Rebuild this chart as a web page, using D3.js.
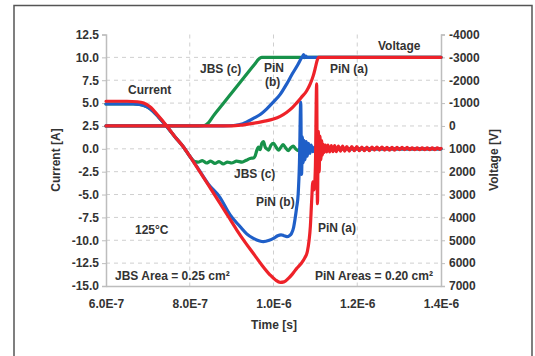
<!DOCTYPE html>
<html>
<head>
<meta charset="utf-8">
<script src="https://cdn.jsdelivr.net/npm/d3@7"></script>
<style>
  html, body { margin: 0; padding: 0; background: #fff; }
  svg { display: block; }
  text { font-family: "Liberation Sans", Arial, sans-serif; font-weight: bold; fill: #333; }
</style>
</head>
<body>
<svg id="chart" width="535" height="356"></svg>
<script>
// Time in ns, current in A, voltage in V
const xTicks = [600, 800, 1000, 1200, 1400];
const currentTicks = [12.5, 10, 7.5, 5, 2.5, 0, -2.5, -5, -7.5, -10, -12.5, -15];
const voltageTicks = [-4000, -3000, -2000, -1000, 0, 1000, 2000, 3000, 4000, 5000, 6000, 7000];

// JBS (c) current
const currentJBS = [
  [600,4.9],[665,4.9],[680,4.85],[692,4.7],[705,4.4],[725,3.5],[745,2.45],[765,1.3],[785,0.2],
  [800,-0.8],[812,-1.4],[820,-1.45],[830,-1.3],[840,-1.55],[850,-1.35],[860,-1.6],[870,-1.4],
  [880,-1.65],[890,-1.45],[900,-1.55],[912,-1.35],[925,-1.45],[935,-1.25],[944,-1.05],[952,-1.0],
  [956,-0.8],[960,-0.2],[964,0.2],[968,-0.1],[972,0.6],[976,0.8],[980,0.2],[984,0.0],[988,-0.15],
  [994,0.4],[1000,0.6],[1006,0.2],[1012,-0.15],[1018,0.2],[1023,0.45],[1029,0.1],[1035,-0.2],
  [1041,0.1],[1047,0.3],[1053,0.0],[1059,-0.2],[1065,0.1],[1072,-0.1],[1080,0.05],[1090,0],[1400,0]
];

// PiN (b) current
const currentPiNb = [
  [600,4.9],[665,4.9],[680,4.85],[692,4.7],[705,4.4],[725,3.5],[745,2.45],[765,1.3],[785,0.2],
  [800,-0.8],[817,-1.95],[845,-3.9],[872,-5.3],[896,-7.2],[920,-8.5],[936,-9.3],[952,-9.8],
  [965,-10.05],[976,-10.15],[990,-10.0],[1000,-9.8],[1010,-9.5],[1018,-9.4],[1025,-9.5],[1032,-9.6],
  [1038,-9.5],[1043,-9.25],[1048,-8.6],[1051,-7.8],[1055,-6.5],[1059,-4.9],[1062,-1.5],[1065,5.1],
  [1067,-2.8],[1069,1.3],[1071,-1.5],[1073,0.9],[1075,-1.2],[1078,0.8],[1081,-0.8],[1084,0.6],
  [1087,-0.5],[1090,0.4],[1094,-0.3],[1098,0.2],[1102,-0.2],[1106,0.1],[1110,0],[1400,0]
];

// PiN (a) current
const currentPiNa = [
  [600,5.2],[650,5.2],[675,5.15],[690,5.0],[705,4.6],[725,3.6],[745,2.5],[765,1.3],[785,0.2],
  [800,-0.8],[817,-2.0],[845,-4.0],[872,-5.95],[892,-7.4],[912,-8.85],[932,-10.2],[952,-11.45],
  [972,-12.7],[992,-13.8],[1005,-14.35],[1016,-14.6],[1025,-14.55],[1035,-14.2],[1045,-13.7],
  [1055,-13.1],[1065,-12.6],[1075,-11.9],[1081,-11.2],[1085,-10.0],[1088,-8.5],[1091,-5.8],
  [1094,-3.6],[1097,-4.5],[1100,-2.0],[1103,7.1],[1105,-6.0],[1107,1.9],[1109,-2.5],[1111,1.4],
  [1113,-1.2],[1115,0.9],[1117,-0.7],[1119,0.5],
  [1121,-0.4],[1124,0.4],[1127,-0.35],[1130,0.4],[1134,-0.35],[1138,0.35],[1142,-0.3],[1146,0.35],
  [1150,-0.3],[1155,0.3],[1160,-0.25],[1165,0.3],[1170,-0.25],[1175,0.25],[1181,-0.25],[1187,0.25],
  [1193,-0.2],[1199,0.25],[1205,-0.2],[1211,0.2],[1217,-0.2],[1223,0.2],[1229,-0.2],[1235,0.2],
  [1241,-0.15],[1247,0.2],[1253,-0.15],[1259,0.2],[1265,-0.15],[1271,0.15],[1277,-0.15],[1283,0.15],
  [1289,-0.15],[1295,0.15],[1301,-0.1],[1307,0.15],[1313,-0.1],[1319,0.15],[1325,-0.1],[1331,0.1],
  [1337,-0.1],[1343,0.1],[1349,-0.1],[1355,0.1],[1361,-0.1],[1367,0.1],[1373,-0.1],[1379,0.1],
  [1385,-0.1],[1391,0.1],[1397,-0.05],[1400,0.05]
];

// Voltages
const voltageJBS = [
  [600,0],[820,0],[835,-20],[845,-150],[856,-430],[880,-980],[900,-1440],[920,-1900],
  [940,-2360],[955,-2700],[965,-2930],[972,-3000],[1400,-3000]
];
const voltagePiNb = [
  [600,0],[880,0],[905,-20],[927,-100],[952,-330],[970,-520],[984,-750],[1000,-1050],
  [1016,-1380],[1031,-1820],[1045,-2280],[1058,-2680],[1066,-2950],[1070,-3060],[1072,-3120],
  [1074,-2990],[1077,-3050],[1080,-3000],[1400,-3000]
];
const voltagePiNa = [
  [600,0],[900,0],[925,-40],[950,-110],[976,-200],[1000,-300],[1016,-420],[1031,-590],
  [1045,-800],[1055,-1000],[1067,-1260],[1079,-1530],[1088,-1850],[1095,-2200],[1100,-2550],
  [1104,-2850],[1108,-3000],[1400,-3000]
];

const colors = { jbs: "#17924a", pinb: "#1f5fc8", pina: "#ee2229" };

const svg = d3.select("#chart");
const plot = { left: 106, right: 441, top: 34.5, bottom: 286 };

const x = d3.scaleLinear().domain([600, 1400]).range([plot.left, plot.right]);
const yI = d3.scaleLinear().domain([-15, 12.5]).range([plot.bottom, plot.top]);
const yV = d3.scaleLinear().domain([7000, -4000]).range([plot.bottom, plot.top]);

// outer frame
svg.append("rect").attr("x", 14).attr("y", 5.5).attr("width", 518).attr("height", 400)
  .attr("fill", "none").attr("stroke", "#555").attr("stroke-width", 1.5);

// grid
const grid = svg.append("g");
currentTicks.filter(d => d > -15 && d < 12.5).forEach(d => {
  grid.append("line").attr("x1", plot.left).attr("x2", plot.right)
    .attr("y1", yI(d)).attr("y2", yI(d))
    .attr("stroke", "#cfcfcf").attr("stroke-width", 1).attr("stroke-dasharray", "4,4");
});
xTicks.filter(d => d > 600 && d < 1400).forEach(d => {
  grid.append("line").attr("x1", x(d)).attr("x2", x(d))
    .attr("y1", plot.top).attr("y2", plot.bottom)
    .attr("stroke", "#cfcfcf").attr("stroke-width", 1).attr("stroke-dasharray", "4,4");
});

// axes
const axisColor = "#bdbdbd";
const leftAxis = svg.append("g").attr("transform", `translate(${plot.left},0)`)
  .call(d3.axisLeft(yI).tickValues(currentTicks).tickSize(4).tickPadding(3)
    .tickFormat(d => d.toFixed(1)));
const rightAxis = svg.append("g").attr("transform", `translate(${plot.right},0)`)
  .call(d3.axisRight(yV).tickValues(voltageTicks).tickSize(4).tickPadding(4)
    .tickFormat(d => String(d)));
const bottomAxis = svg.append("g").attr("transform", `translate(0,${plot.bottom})`)
  .call(d3.axisBottom(x).tickValues(xTicks).tickSize(0).tickPadding(13)
    .tickFormat(d => (d * 1e-9).toExponential(1).toUpperCase()));
[leftAxis, rightAxis, bottomAxis].forEach(a => {
  a.select(".domain").attr("stroke", axisColor).attr("stroke-width", 1.5);
  a.selectAll(".tick line").attr("stroke", axisColor);
  a.selectAll(".tick text").style("font-size", "12px").attr("fill", "#333");
});

// axis titles
svg.append("text").attr("transform", "translate(60,160) rotate(-90)")
  .attr("text-anchor", "middle").style("font-size", "12px").text("Current [A]");
svg.append("text").attr("transform", "translate(498,160) rotate(-90)")
  .attr("text-anchor", "middle").style("font-size", "12px").text("Voltage [V]");
svg.append("text").attr("x", 274).attr("y", 329)
  .attr("text-anchor", "middle").style("font-size", "12px").text("Time [s]");

// curves
const lineI = d3.line().x(d => x(d[0])).y(d => yI(d[1])).curve(d3.curveMonotoneX);
const lineV = d3.line().x(d => x(d[0])).y(d => yV(d[1])).curve(d3.curveMonotoneX);
const curves = svg.append("g").attr("fill", "none").attr("stroke-width", 3.2)
  .attr("stroke-linejoin", "round").attr("stroke-linecap", "round");

[[voltageJBS, currentJBS, colors.jbs],
 [voltagePiNb, currentPiNb, colors.pinb],
 [voltagePiNa, currentPiNa, colors.pina]].forEach(([v, i, c]) => {
  curves.append("path").datum(i).attr("d", lineI).attr("stroke", c);
  curves.append("path").datum(v).attr("d", lineV).attr("stroke", c);
});

// annotations
const notes = [
  ["Current", 128, 94], ["Voltage", 378, 50], ["JBS (c)", 200, 73], ["PiN", 264, 72],
  ["(b)", 265, 86], ["PiN (a)", 330, 73], ["JBS (c)", 234, 178], ["PiN (b)", 256, 206],
  ["PiN (a)", 318, 232], ["125°C", 135, 234],
  ["JBS Area = 0.25 cm²", 115, 280], ["PiN Areas = 0.20 cm²", 315, 280]
];
svg.append("g").selectAll("text").data(notes).join("text")
  .attr("x", d => d[1]).attr("y", d => d[2]).style("font-size", "12px").text(d => d[0]);
</script>
</body>
</html>
